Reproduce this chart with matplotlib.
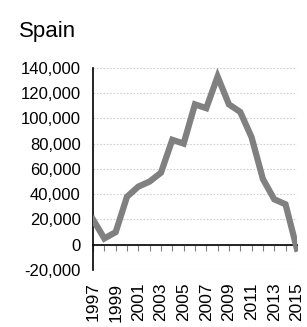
import matplotlib
matplotlib.use("Agg")
import matplotlib.pyplot as plt

plt.rcParams["font.family"] = ["Liberation Sans", "DejaVu Sans"]

# data
years = list(range(1997, 2016))
values = [20000, 5000, 10000, 38000, 46000, 50000, 57000, 83000, 80000, 111000,
          108000, 133000, 111000, 105000, 85000, 52000, 36000, 32000, -3000]
label_years = years[::2]
y_ticks = [-20000, 0, 20000, 40000, 60000, 80000, 100000, 120000, 140000]

fig = plt.figure(figsize=(3.07, 3.27), dpi=100)
ax = fig.add_axes([0.303, 0.174, 0.664, 0.619])

ax.plot(years, values, color="#808080", linewidth=4.5, solid_joinstyle="miter",
        zorder=3)

ax.set_xlim(years[0], years[-1])
ax.set_ylim(y_ticks[0], y_ticks[-1])
ax.set_yticks(y_ticks)
ax.set_yticklabels([f"{v:,}" for v in y_ticks], fontsize=12)
ax.tick_params(axis="y", length=0, pad=9)
ax.grid(True, axis="y", color="#d0d0d0", linestyle=(0, (1.5, 1.5)), linewidth=0.8)

# x axis line sits at zero, labels stay at the bottom
for side in ("top", "right"):
    ax.spines[side].set_visible(False)
ax.spines["bottom"].set_position(("data", 0))
ax.spines["bottom"].set_linewidth(1.2)
ax.spines["left"].set_linewidth(1.2)
ax.set_xticks(years)
ax.tick_params(axis="x", direction="out", length=4.5, width=0.8, color="#808080",
               labelbottom=False)

sec = ax.secondary_xaxis("bottom")
sec.spines["bottom"].set_visible(False)
sec.set_xticks(label_years)
sec.set_xticklabels([str(y) for y in label_years], rotation=90, fontsize=12.5)
sec.tick_params(axis="x", length=0, pad=9)

fig.text(0.062, 1 - 37 / 327, "Spain", fontsize=16, va="baseline", ha="left")

fig.savefig("out.png", dpi=100)
